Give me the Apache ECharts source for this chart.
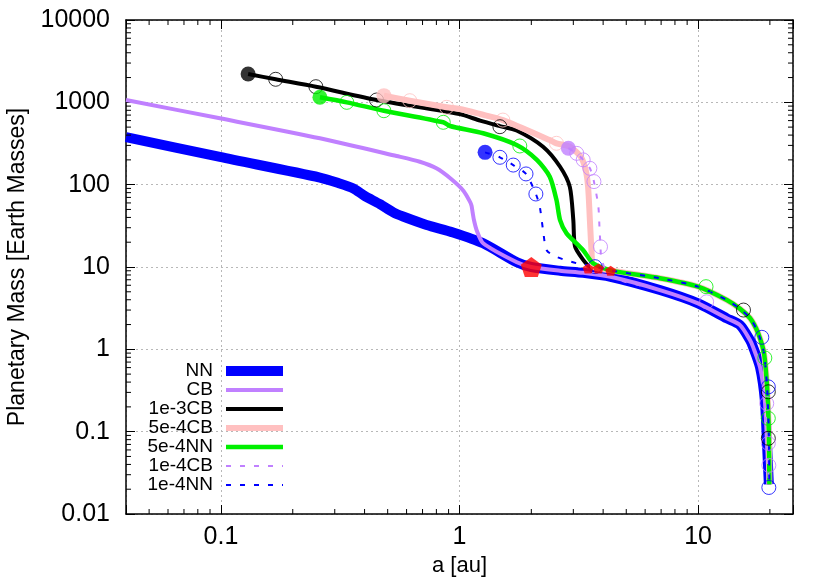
<!DOCTYPE html>
<html><head><meta charset="utf-8">
<script src="https://cdn.jsdelivr.net/npm/echarts@6/dist/echarts.min.js"></script>
<style>html,body{margin:0;padding:0;background:#fff}#c{width:830px;height:581px}</style>
</head><body><div id="c"></div>
<script>
// ---------- data ----------
const xTickLabels = ['0.1', '1', '10'];
const yTickLabels = ['0.01', '0.1', '1', '10', '100', '1000', '10000'];
const seriesNames = ['NN', 'CB', '1e-3CB', '5e-4CB', '5e-4NN', '1e-4CB', '1e-4NN'];

const nnA = [0.04, 0.099, 0.26, 0.306, 0.359, 0.40, 0.464, 0.528, 0.58, 0.728, 0.94, 1.257, 1.74, 2.0, 2.64, 3.3, 4.3, 6.92, 10, 13.2, 15, 16.5, 17, 18.2, 19.05, 19.5, 19.8];
const nnM = [379, 217, 122, 106, 90, 73, 58, 46, 41, 32.4, 26.3, 19.4, 11.4, 10.0, 9.0, 8.5, 7.6, 5.25, 3.62, 2.38, 1.97, 1.30, 1.07, 0.6, 0.24, 0.061, 0.023];

const cbA = [0.04, 0.099, 0.26, 0.545, 0.682, 0.80, 0.92, 1.04, 1.11, 1.124, 1.135, 1.15, 1.18, 1.257, 1.74, 2.0, 2.64, 3.3, 4.3, 6.92, 10, 13.2, 15, 16.5, 17, 18.2, 19.05, 19.5, 19.8];
const cbM = [1067, 640, 366, 223, 190, 158, 118, 84, 61, 55, 46, 37, 28, 19.4, 11.4, 10.0, 9.0, 8.5, 7.6, 5.25, 3.62, 2.38, 1.97, 1.30, 1.07, 0.6, 0.24, 0.061, 0.023];

const e3cbA = [0.130, 0.1696, 0.250, 0.449, 1.0, 1.22, 1.477, 1.736, 2.24, 2.64, 2.90, 3.0, 3.05, 3.30, 3.52, 4.3, 6.92, 10, 13.2, 15, 16.5, 17.5, 18.2, 18.75, 19.05, 19.5, 19.8, 19.9];
const e3cbM = [2208, 1905, 1549, 1067, 720, 600, 515, 455, 289, 165, 94, 37, 17.7, 12.2, 10.1, 9.1, 7.3, 5.77, 3.97, 3.1, 2.4, 1.8, 1.35, 1.0, 0.75, 0.32, 0.095, 0.023];

const p5cbA = [0.482, 0.619, 0.883, 1.0, 1.22, 1.52, 2.39, 2.55, 2.90, 3.22, 3.38, 3.46, 3.52, 3.58, 3.63, 4.3, 6.92, 10, 13.2, 15, 16.5, 17.5, 18.2, 18.75, 19.05, 19.5, 19.8, 19.9];
const p5cbM = [1205, 1047, 870, 830, 721, 609, 348, 318, 289, 219, 151, 94, 37, 14.7, 10.1, 9.1, 7.3, 5.77, 3.97, 3.1, 2.4, 1.8, 1.35, 1.0, 0.75, 0.32, 0.095, 0.023];

const p5nnA = [0.260, 0.337, 0.482, 0.855, 0.912, 1.257, 1.736, 2.11, 2.39, 2.55, 2.64, 2.81, 3.30, 3.63, 4.3, 6.92, 10, 13.2, 15, 16.5, 17.5, 18.2, 18.75, 19.05, 19.5, 19.8, 19.9];
const p5nnM = [1151, 1000, 791, 572, 516, 421, 303, 200, 125, 65, 37, 25.6, 16, 11.1, 9.1, 7.3, 5.77, 3.97, 3.1, 2.4, 1.8, 1.35, 1.0, 0.75, 0.32, 0.095, 0.023];

const e4cbA = [2.86, 3.10, 3.30, 3.52, 3.66, 3.82, 3.86, 3.90, 3.94, 4.3, 6.92, 10, 13.2, 15, 16.5, 17, 18.2, 19.05, 19.5, 19.8];
const e4cbM = [277, 240, 200, 158, 109, 54, 31, 17.6, 12.2, 7.6, 5.25, 3.62, 2.38, 1.97, 1.30, 1.07, 0.6, 0.24, 0.061, 0.023];

const e4nnA = [1.28, 1.477, 1.68, 1.90, 2.09, 2.17, 2.24, 2.32, 2.55, 3.10, 3.63, 4.3, 6.92, 10, 13.2, 15, 16.5, 17.5, 18.2, 18.75, 19.05, 19.5, 19.8, 19.9];
const e4nnM = [247, 215, 173, 135, 77, 54, 28, 16, 13.3, 11.1, 10.3, 9.1, 7.3, 5.77, 3.97, 3.1, 2.4, 1.8, 1.35, 1.0, 0.75, 0.32, 0.095, 0.023];

// open-circle snapshots
const e3cbCircA = [0.1696, 0.250, 0.449, 1.477, 15.5, 19.7, 19.7];
const e3cbCircM = [1905, 1549, 1067, 506, 3.0, 0.305, 0.083];
const p5cbCircA = [0.619, 0.883, 1.52, 2.55];
const p5cbCircM = [1047, 870, 609, 318];
const p5nnCircA = [0.337, 0.482, 0.855, 1.79, 10.8, 19.05, 19.7];
const p5nnCircM = [1000, 791, 572, 295, 5.77, 0.785, 0.145];
const e4cbCircA = [3.10, 3.30, 3.52, 3.66, 3.90, 10.86, 19.4, 19.7, 19.8];
const e4cbCircM = [240, 200, 158, 109, 17.6, 3.78, 0.22, 0.072, 0.039];
const e4nnCircA = [1.477, 1.68, 1.90, 2.09, 3.70, 18.5, 19.7, 19.8];
const e4nnCircM = [215, 173, 135, 77, 10.1, 1.40, 0.35, 0.021];

// filled start points
const startE3cbA = [0.130], startE3cbM = [2208];
const startP5nnA = [0.260], startP5nnM = [1151];
const startP5cbA = [0.482], startP5cbM = [1205];
const startE4nnA = [1.28],  startE4nnM = [247];
const startE4cbA = [2.86],  startE4cbM = [277];

// red pentagons
const bigPentA = [2.0], bigPentM = [10.0];
const smallPentA = [3.46, 3.82, 4.30], smallPentM = [9.6, 9.6, 9.0];

// ---------- chart ----------
const X_MIN = 0.04, X_MAX = 25, Y_MIN = 0.01, Y_MAX = 10000;
const FONT = 'Liberation Sans, Arial, Helvetica, sans-serif';
const pts = (A, M) => A.map((a, i) => [a, M[i]]);
const isDecade = v => Math.abs(Math.log10(v) - Math.round(Math.log10(v))) < 1e-6;
const labelFor = (list) => (v) => {
  if (!isDecade(v)) return '';
  const s = list.find(t => Math.abs(Number(t) - v) / v < 1e-6);
  return s || '';
};

const minorX = [], minorY = [];
for (let k = -2; k <= 1; k++) for (let m = 2; m <= 9; m++) { const v = m * Math.pow(10, k); if (v > X_MIN * 1.0001 && v < X_MAX) minorX.push([v, Y_MIN]); }
for (let k = -2; k <= 3; k++) for (let m = 2; m <= 9; m++) { const v = m * Math.pow(10, k); minorY.push([X_MIN, v]); }
const TL = 5;

const lineS = (name, A, M, color, width, dash) => ({
  type: 'line', name, data: pts(A, M), symbol: 'none', showSymbol: false, smooth: 0.25,
  lineStyle: { color, width, type: dash || 'solid', cap: 'butt', join: 'round' },
  itemStyle: { color }, clip: true, z: 2, emphasis: { disabled: true }
});
const openS = (A, M, color) => ({
  type: 'scatter', name: '_o', data: pts(A, M), symbol: 'circle', symbolSize: 14,
  itemStyle: { color: 'rgba(0,0,0,0)', borderColor: color, borderWidth: 1 }, z: 2, silent: true
});
const fillS = (A, M, color) => ({
  type: 'scatter', name: '_f', data: pts(A, M), symbol: 'circle', symbolSize: 15,
  itemStyle: { color }, z: 2, silent: true
});
const PENT = 'path://M0,-10 L9.51,-3.09 L5.88,8.09 L-5.88,8.09 L-9.51,-3.09 Z';

const C = { nn: '#0000ff', cb: '#c080ff', blk: '#000000', pink: '#ffc0c0', grn: '#00f000' };
const DASH = [5, 9];

const axisCommon = {
  type: 'log', logBase: 10,
  axisLine: { show: true, lineStyle: { color: '#000', width: 1.5 } },
  axisTick: { show: true, inside: true, length: 9, lineStyle: { color: '#000', width: 1 } },
  minorTick: { show: false },
};

const option = {
  animation: false,
  grid: { left: 126, right: 37, top: 20, bottom: 67, containLabel: false, outerBoundsMode: 'none' },
  xAxis: [
    Object.assign({}, axisCommon, {
      min: X_MIN, max: X_MAX, position: 'bottom',
      axisLabel: { formatter: labelFor(xTickLabels), fontSize: 25, color: '#000', fontFamily: FONT, margin: 11 },
      splitLine: { show: true, lineStyle: { color: '#b8b8b8', width: 1, type: [2, 3] } },
      name: 'a [au]', nameLocation: 'middle', nameGap: 40,
      nameTextStyle: { fontSize: 22, color: '#000', fontFamily: FONT }
    }),
    Object.assign({}, axisCommon, {
      min: X_MIN, max: X_MAX, position: 'top', axisLabel: { show: false }, splitLine: { show: false }
    })
  ],
  yAxis: [
    Object.assign({}, axisCommon, {
      min: Y_MIN, max: Y_MAX, position: 'left',
      axisLabel: { formatter: labelFor(yTickLabels), fontSize: 25, color: '#000', fontFamily: FONT, margin: 16 },
      splitLine: { show: true, lineStyle: { color: '#b8b8b8', width: 1, type: [2, 3] } },
      name: 'Planetary Mass [Earth Masses]', nameLocation: 'middle', nameGap: 93, nameRotate: 90,
      nameTextStyle: { fontSize: 23, color: '#000', fontFamily: FONT }
    }),
    Object.assign({}, axisCommon, {
      min: Y_MIN, max: Y_MAX, position: 'right', axisLabel: { show: false }, splitLine: { show: false }
    })
  ],
  legend: {
    orient: 'vertical', left: 143, top: 361.5, padding: 0, itemGap: 0,
    itemWidth: 57, itemHeight: 14, align: 'right', selectedMode: false,
    data: seriesNames,
    lineStyle: { width: 'inherit' },
    itemStyle: { opacity: 0 },
    formatter: n => '{t|' + n + '}',
    textStyle: { rich: { t: { width: 70, align: 'right', fontSize: 19, lineHeight: 20.7, padding: [0, 8, 0, 0], fontFamily: FONT, color: '#000' } } }
  },
  series: [
    lineS('NN', nnA, nnM, C.nn, 10),
    lineS('CB', cbA, cbM, C.cb, 4),
    lineS('1e-3CB', e3cbA, e3cbM, C.blk, 4),
    openS(e3cbCircA, e3cbCircM, C.blk),
    fillS(startE3cbA, startE3cbM, C.blk),
    lineS('5e-4CB', p5cbA, p5cbM, C.pink, 6),
    openS(p5cbCircA, p5cbCircM, C.pink),
    fillS(startP5cbA, startP5cbM, C.pink),
    lineS('5e-4NN', p5nnA, p5nnM, C.grn, 4.5),
    openS(p5nnCircA, p5nnCircM, C.grn),
    fillS(startP5nnA, startP5nnM, C.grn),
    lineS('1e-4CB', e4cbA, e4cbM, C.cb, 2, DASH),
    openS(e4cbCircA, e4cbCircM, C.cb),
    fillS(startE4cbA, startE4cbM, C.cb),
    lineS('1e-4NN', e4nnA, e4nnM, C.nn, 2, DASH),
    openS(e4nnCircA, e4nnCircM, C.nn),
    fillS(startE4nnA, startE4nnM, C.nn),
    { type: 'scatter', name: '_p', data: pts(bigPentA, bigPentM), symbol: PENT, symbolSize: [21, 20], itemStyle: { color: '#ff0000' }, z: 3, silent: true },
    { type: 'scatter', name: '_p2', data: pts(smallPentA, smallPentM), symbol: PENT, symbolSize: [11, 10], itemStyle: { color: '#ff0000' }, z: 3, silent: true },
    { type: 'custom', name: '_mx', data: minorX, silent: true, z: 5,
      renderItem: (params, api) => {
        const v = api.value(0);
        const b = api.coord([v, Y_MIN]), t = api.coord([v, Y_MAX]);
        return { type: 'group', children: [
          { type: 'line', shape: { x1: b[0], y1: b[1], x2: b[0], y2: b[1] - TL }, style: { stroke: '#000', lineWidth: 1 } },
          { type: 'line', shape: { x1: t[0], y1: t[1], x2: t[0], y2: t[1] + TL }, style: { stroke: '#000', lineWidth: 1 } } ] };
      } },
    { type: 'custom', name: '_my', data: minorY, silent: true, z: 5,
      renderItem: (params, api) => {
        const v = api.value(1);
        const l = api.coord([X_MIN, v]), r = api.coord([X_MAX, v]);
        return { type: 'group', children: [
          { type: 'line', shape: { x1: l[0], y1: l[1], x2: l[0] + TL, y2: l[1] }, style: { stroke: '#000', lineWidth: 1 } },
          { type: 'line', shape: { x1: r[0], y1: r[1], x2: r[0] - TL, y2: r[1] }, style: { stroke: '#000', lineWidth: 1 } } ] };
      } }
  ]
};
const chart = echarts.init(document.getElementById('c'), null, { renderer: 'canvas' });
chart.setOption(option);
</script>
</body></html>
